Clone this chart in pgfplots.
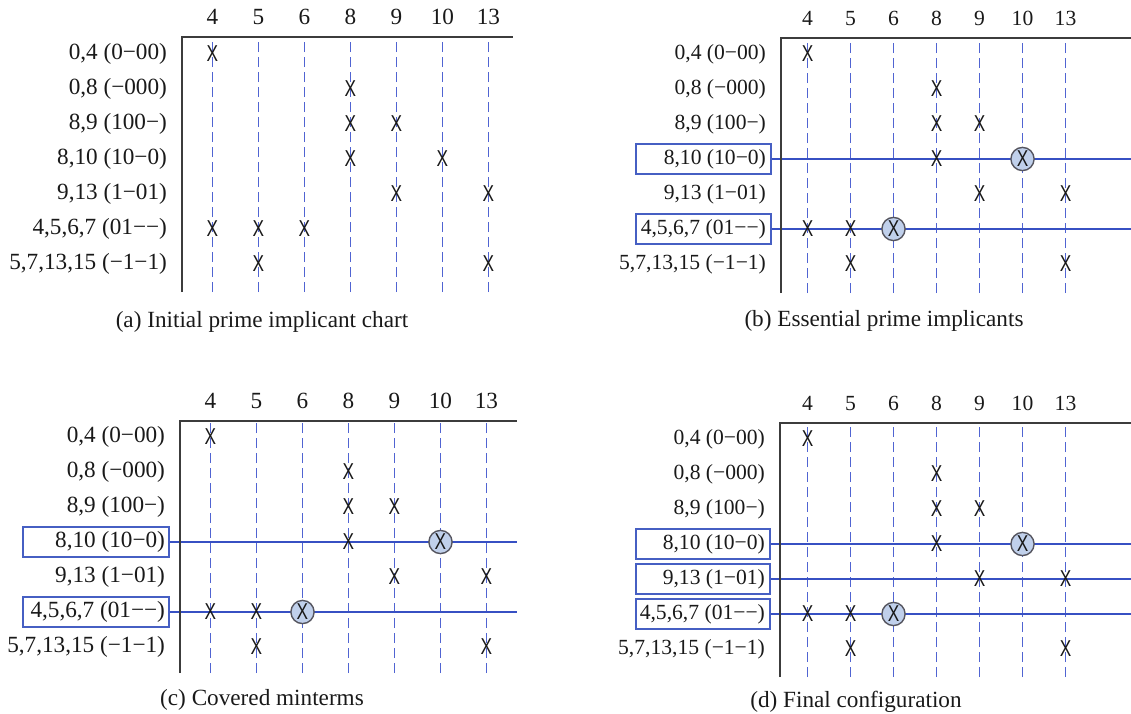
\documentclass[border=0pt]{standalone}
\usepackage{fontspec}
\setmainfont{Liberation Serif}
\newfontfamily\xfont{Liberation Sans}
\usepackage{graphicx}
\usepackage{pgfplots}
\pgfplotsset{compat=1.18}
\usepackage{pgfplotstable}

\definecolor{dashblue}{RGB}{80,100,210}
\definecolor{rowblue}{RGB}{55,80,195}
\definecolor{boxblue}{RGB}{70,95,195}
\definecolor{circfill}{RGB}{192,208,235}
\definecolor{circdraw}{RGB}{85,85,95}
\definecolor{axisgray}{RGB}{60,60,60}
\definecolor{textcol}{RGB}{25,25,25}

% X marks: col index (0..6 = minterms 4,5,6,8,9,10,13), row = -(row index)
\pgfplotstableread{
col row
0 0
3 -1
3 -2
4 -2
3 -3
5 -3
4 -4
6 -4
0 -5
1 -5
2 -5
1 -6
6 -6
}\marks
\pgfplotstableread{
col row
5 -3
2 -5
}\circled

\pgfplotsset{
 chart/.style={
  scale only axis, clip=false, anchor=north west,
  axis line style={draw=none},
  major tick length=0pt,
  xtick={0,...,6}, xticklabels={4,5,6,8,9,10,13},
  xticklabel pos=upper,
  ytick={-6,...,0},
  yticklabels={{5,7,13,15 (−1−1)},{4,5,6,7 (01−−)},{9,13 (1−01)},{8,10 (10−0)},{8,9 (100−)},{0,8 (−000)},{0,4 (0−00)}},
  xmajorgrids,
  major grid style={dashblue, dash pattern=on 5pt off 2.5pt, line width=0.5pt},
  tick label style={text=textcol},
  yticklabel style={xshift=-4pt},
  xticklabel style={yshift=2.5pt},
 },
 bigfont/.style={tick label style={font=\fontsize{11.6}{13}\selectfont}},
 smallfont/.style={tick label style={font=\fontsize{10.8}{12}\selectfont}},
 xmarks/.style={textcol, only marks, mark=text, text mark={\scalebox{0.75}[1]{X}}, text mark as node=true,
   text mark style={font=\fontsize{11.5}{11.5}\xfont, inner sep=0pt}},
 cmarks/.style={only marks, mark=*, mark size=5.8pt, mark options={fill=circfill, draw=circdraw, line width=0.7pt}},
 rowline/.style={color=rowblue, line width=1pt, mark=none},
}
\tikzset{
 axisline/.style={axisgray, line width=1pt},
 boxline/.style={boxblue, line width=1pt},
}

\begin{document}
\begin{tikzpicture}
\useasboundingbox (0,0) rectangle (565.5pt,-356.5pt);

% (a)
\begin{axis}[chart, bigfont, at={(91pt,-18.5pt)}, width=165.5pt, height=127.5pt,
  xmin=-0.663, xmax=6.533, ymin=-6.8, ymax=0.4857]
\addplot[xmarks] table[x=col,y=row]{\marks};
\draw[axisline] (rel axis cs:0,0) -- (rel axis cs:0,1) -- (rel axis cs:1,1);
\end{axis}

% (b)
\begin{axis}[chart, smallfont, at={(390.5pt,-19pt)}, width=175pt, height=127.5pt,
  xmin=-0.6163, xmax=7.523, ymin=-6.829, ymax=0.4571]
\addplot[rowline] coordinates {(-0.849,-3) (7.523,-3)};
\addplot[rowline] coordinates {(-0.849,-5) (7.523,-5)};
\draw[boxline] ([xshift=-5pt]axis cs:-0.6163,-2.5714) rectangle ([xshift=-72.5pt]axis cs:-0.6163,-3.4286);
\draw[boxline] ([xshift=-5pt]axis cs:-0.6163,-4.5714) rectangle ([xshift=-72.5pt]axis cs:-0.6163,-5.4286);
\addplot[cmarks] table[x=col,y=row]{\circled};
\addplot[xmarks] table[x=col,y=row]{\marks};
\draw[axisline] (rel axis cs:0,0) -- (rel axis cs:0,1) -- (rel axis cs:1,1);
\end{axis}

% (c)
\begin{axis}[chart, bigfont, at={(90pt,-210.5pt)}, width=168.5pt, height=126pt,
  xmin=-0.663, xmax=6.663, ymin=-6.743, ymax=0.4571]
\addplot[rowline] coordinates {(-0.902,-3) (6.663,-3)};
\addplot[rowline] coordinates {(-0.902,-5) (6.663,-5)};
\draw[boxline] ([xshift=-5.5pt]axis cs:-0.663,-2.5714) rectangle ([xshift=-78.5pt]axis cs:-0.663,-3.4286);
\draw[boxline] ([xshift=-5.5pt]axis cs:-0.663,-4.5714) rectangle ([xshift=-78.5pt]axis cs:-0.663,-5.4286);
\addplot[cmarks] table[x=col,y=row]{\circled};
\addplot[xmarks] table[x=col,y=row]{\marks};
\draw[axisline] (rel axis cs:0,0) -- (rel axis cs:0,1) -- (rel axis cs:1,1);
\end{axis}

% (d)
\begin{axis}[chart, smallfont, at={(390pt,-211.5pt)}, width=175.5pt, height=127pt,
  xmin=-0.6395, xmax=7.523, ymin=-6.8, ymax=0.4571]
\addplot[rowline] coordinates {(-0.872,-3) (7.523,-3)};
\addplot[rowline] coordinates {(-0.872,-4) (7.523,-4)};
\addplot[rowline] coordinates {(-0.872,-5) (7.523,-5)};
\draw[boxline] ([xshift=-5pt]axis cs:-0.6395,-2.5714) rectangle ([xshift=-72pt]axis cs:-0.6395,-3.4286);
\draw[boxline] ([xshift=-5pt]axis cs:-0.6395,-3.5714) rectangle ([xshift=-72pt]axis cs:-0.6395,-4.4286);
\draw[boxline] ([xshift=-5pt]axis cs:-0.6395,-4.5714) rectangle ([xshift=-72pt]axis cs:-0.6395,-5.4286);
\addplot[cmarks] table[x=col,y=row]{\circled};
\addplot[xmarks] table[x=col,y=row]{\marks};
\draw[axisline] (rel axis cs:0,0) -- (rel axis cs:0,1) -- (rel axis cs:1,1);
\end{axis}

% captions
\begin{scope}[every node/.style={text=textcol, font=\fontsize{11.6}{13}\selectfont}]
\node at (131pt,-161pt) {(a) Initial prime implicant chart};
\node at (442pt,-160.5pt) {(b) Essential prime implicants};
\node at (131pt,-350pt) {(c) Covered minterms};
\node at (428pt,-351pt) {(d) Final configuration};
\end{scope}
\end{tikzpicture}
\end{document}
